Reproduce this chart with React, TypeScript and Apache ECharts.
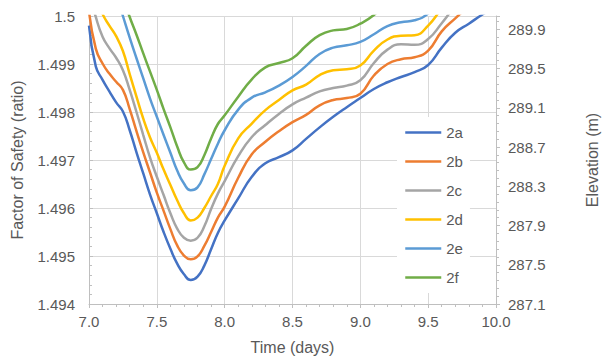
import React, { useEffect, useRef } from "react";
import * as echarts from "echarts";

const time = [7.0, 7.05, 7.1, 7.15, 7.2, 7.25, 7.3, 7.35, 7.4, 7.45, 7.5, 7.55, 7.6, 7.65, 7.7, 7.75, 7.8, 7.85, 7.9, 7.95, 8.0, 8.1, 8.2, 8.3, 8.4, 8.5, 8.6, 8.7, 8.8, 8.9, 9.0, 9.1, 9.2, 9.3, 9.4, 9.5, 9.6, 9.7, 9.8, 9.9, 10.0];

const s2a = [1.4998, 1.49895, 1.49867, 1.49843, 1.4982, 1.49801, 1.49762, 1.49716, 1.49672, 1.49628, 1.49589, 1.4955, 1.49515, 1.49484, 1.49462, 1.4945, 1.49457, 1.4948, 1.49514, 1.49548, 1.49574, 1.4962, 1.49665, 1.49693, 1.49706, 1.4972, 1.49744, 1.49768, 1.4979, 1.4981, 1.49829, 1.49848, 1.49862, 1.49873, 1.49883, 1.49898, 1.49934, 1.49965, 1.49984, 1.50003, 1.5002];
const s2b = [1.5001, 1.49932, 1.49901, 1.4988, 1.49863, 1.49846, 1.49806, 1.4976, 1.49716, 1.49674, 1.49632, 1.49594, 1.49556, 1.49522, 1.49501, 1.49493, 1.49499, 1.49521, 1.4955, 1.4958, 1.49603, 1.49663, 1.49712, 1.49738, 1.4976, 1.49779, 1.49794, 1.49814, 1.49825, 1.49829, 1.49838, 1.49876, 1.499, 1.4991, 1.49914, 1.49928, 1.49968, 1.49995, 1.5002, 1.5004, 1.50055];
const s2c = [1.5005, 1.49998, 1.49957, 1.49933, 1.49913, 1.49887, 1.49846, 1.498, 1.49752, 1.49705, 1.49665, 1.49627, 1.49589, 1.49557, 1.49538, 1.49532, 1.49538, 1.49562, 1.49598, 1.4963, 1.49656, 1.49708, 1.49748, 1.49773, 1.49796, 1.49816, 1.4983, 1.49843, 1.4985, 1.49855, 1.49866, 1.49902, 1.4993, 1.49941, 1.4994, 1.49952, 1.49985, 1.5002, 1.50045, 1.50065, 1.5008];
const s2d = [1.5008, 1.5004, 1.50004, 1.4998, 1.49958, 1.49927, 1.49879, 1.49832, 1.49786, 1.49747, 1.49715, 1.4968, 1.49648, 1.49616, 1.49589, 1.49574, 1.4958, 1.496, 1.49625, 1.4965, 1.49688, 1.49745, 1.49776, 1.49804, 1.49825, 1.49845, 1.49857, 1.49877, 1.49887, 1.49889, 1.49897, 1.49928, 1.49951, 1.49959, 1.4996, 1.4998, 1.50015, 1.50045, 1.5007, 1.5009, 1.50105];
const s2e = [1.5022, 1.5018, 1.5013, 1.5009, 1.50045, 1.5, 1.49955, 1.49912, 1.4987, 1.49828, 1.4979, 1.49752, 1.49715, 1.49678, 1.49651, 1.49637, 1.49643, 1.4967, 1.49702, 1.49734, 1.49762, 1.49805, 1.4983, 1.49841, 1.49855, 1.49873, 1.49896, 1.49921, 1.49934, 1.49939, 1.49946, 1.49962, 1.49979, 1.49987, 1.49991, 1.50005, 1.50035, 1.50065, 1.5009, 1.5011, 1.50125];
const s2f = [1.5024, 1.502, 1.5016, 1.5012, 1.5008, 1.5004, 1.49998, 1.49961, 1.49922, 1.49884, 1.49846, 1.49806, 1.49768, 1.49728, 1.49695, 1.4968, 1.49685, 1.4971, 1.49745, 1.49775, 1.49793, 1.49832, 1.49868, 1.49893, 1.49902, 1.49912, 1.49938, 1.4996, 1.4997, 1.49973, 1.49984, 1.50002, 1.5003, 1.50055, 1.50075, 1.50095, 1.5012, 1.5014, 1.5016, 1.5018, 1.502];

const seriesNames = ["2a", "2b", "2c", "2d", "2e", "2f"];
const seriesValues = [s2a, s2b, s2c, s2d, s2e, s2f];
const colors = ["#4472C4", "#ED7D31", "#A5A5A5", "#FFC000", "#5B9BD5", "#70AD47"];

const FONT = "'Liberation Sans', Arial, sans-serif";
const TXT = "#595959";
const AXIS = "#BFBFBF";
const GRID = "#D9D9D9";

export default function App() {
  const ref = useRef<HTMLDivElement>(null);
  useEffect(() => {
    if (!ref.current) return;
    const chart = echarts.init(ref.current, null, { renderer: "svg" });
    const series = seriesNames.map((name, i) => ({
      name,
      type: "line",
      data: time.map((t, j) => [t, seriesValues[i][j]]),
      smooth: 0.5,
      symbol: "none",
      showSymbol: false,
      clip: true,
      lineStyle: { color: colors[i], width: 2.5 },
      itemStyle: { color: colors[i] },
      yAxisIndex: 0,
    }));
    chart.setOption({
      animation: false,
      backgroundColor: "#ffffff",
      textStyle: { fontFamily: FONT },
      grid: { left: 89, right: 114, top: 16, bottom: 53, containLabel: false, outerBoundsMode: "none" },
      legend: {
        orient: "vertical",
        left: 397,
        top: 117,
        backgroundColor: "#ffffff",
        padding: [8, 7, 8, 7],
        itemWidth: 36,
        itemHeight: 14,
        itemGap: 14,
        itemStyle: { opacity: 0 },
        lineStyle: { width: 2.5 },
        textStyle: { color: TXT, fontSize: 15, fontFamily: FONT },
        data: seriesNames,
      },
      xAxis: {
        type: "value",
        min: 7,
        max: 10,
        interval: 0.5,
        name: "Time (days)",
        nameLocation: "middle",
        nameGap: 35,
        nameTextStyle: { color: TXT, fontSize: 16, fontFamily: FONT },
        axisLine: { show: true, lineStyle: { color: AXIS, width: 1 } },
        axisTick: { show: true, length: 4, lineStyle: { color: AXIS } },
        minorTick: { show: true, splitNumber: 5, length: 3, lineStyle: { color: AXIS } },
        axisLabel: { color: TXT, fontSize: 15, margin: 10, formatter: (v: number) => v.toFixed(1) },
        splitLine: { show: true, lineStyle: { color: GRID, width: 1 } },
      },
      yAxis: [
        {
          type: "value",
          min: 1.494,
          max: 1.5,
          interval: 0.001,
          name: "Factor of Safety (ratio)",
          nameLocation: "middle",
          nameRotate: 90,
          nameGap: 64,
          nameTextStyle: { color: TXT, fontSize: 16, fontFamily: FONT },
          axisLine: { show: true, lineStyle: { color: AXIS, width: 1 } },
          axisTick: { show: true, inside: true, length: 4, lineStyle: { color: AXIS } },
          minorTick: { show: true, splitNumber: 5, length: 3, lineStyle: { color: AXIS } },
          axisLabel: { color: TXT, fontSize: 15, margin: 14, formatter: (v: number) => String(parseFloat(v.toFixed(3))) },
          splitLine: { show: true, lineStyle: { color: GRID, width: 1 } },
        },
        {
          type: "value",
          position: "right",
          min: 287.1,
          max: 290.036,
          interval: 0.4,
          name: "Elevation (m)",
          nameLocation: "middle",
          nameRotate: 90,
          nameGap: 88,
          nameTextStyle: { color: TXT, fontSize: 16, fontFamily: FONT },
          axisLine: { show: true, lineStyle: { color: AXIS, width: 1 } },
          axisTick: { show: true, length: 4, lineStyle: { color: AXIS } },
          minorTick: { show: true, splitNumber: 5, length: 3, lineStyle: { color: AXIS } },
          axisLabel: { color: TXT, fontSize: 15, margin: 12, showMaxLabel: false, formatter: (v: number) => v.toFixed(1) },
          splitLine: { show: false },
        },
      ],
      series,
    });
    return () => chart.dispose();
  }, []);
  return <div ref={ref} style={{ position: "fixed", left: 0, top: 0, width: 610, height: 357 }} />;
}
